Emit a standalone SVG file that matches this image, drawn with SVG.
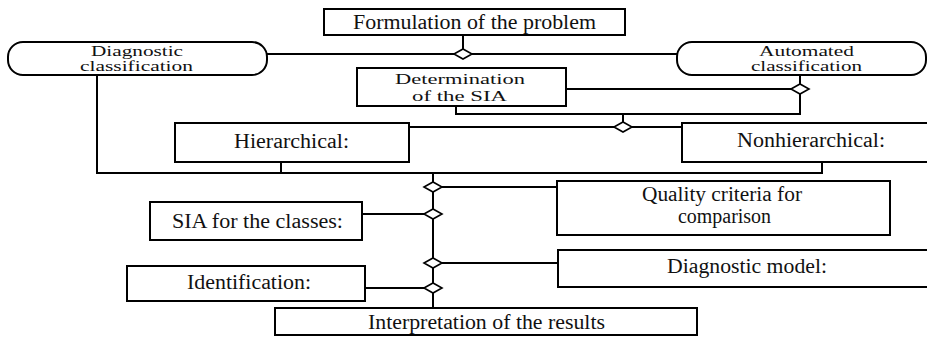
<svg xmlns="http://www.w3.org/2000/svg" width="927" height="338" viewBox="0 0 927 338">
<style>
.b{fill:#fff;stroke:#000;stroke-width:2}
.c{fill:none;stroke:#000;stroke-width:2}
.d{fill:#fff;stroke:#000;stroke-width:1.6}
text{font-family:'Liberation Serif','DejaVu Serif',serif;font-size:20px;fill:#111}
text.t{font-size:14px}
text.u{font-size:15px}
</style>
<defs>
<path id="dm" d="M-9,0 L0,-5 L9,0 L0,5 Z"/>
</defs>
<rect width="927" height="338" fill="#fff"/>
<g id="connectors">
<path class="c" d="M463,35 V54 M266,54 H677"/>
<path class="c" d="M566,89 H800 M800,75 V114 H456 V106"/>
<path class="c" d="M623,114 V127 M409,127 H682"/>
<path class="c" d="M97,75 V173 H822 V162 M281,162 V173"/>
<path class="c" d="M433,173 V308"/>
<path class="c" d="M433,187 H557 M362,214 H433 M433,263 H558 M365,288 H433"/>
<use href="#dm" class="d" x="463" y="54"/>
<use href="#dm" class="d" x="800" y="89"/>
<use href="#dm" class="d" x="623" y="127"/>
<use href="#dm" class="d" x="433" y="187"/>
<use href="#dm" class="d" x="433" y="214"/>
<use href="#dm" class="d" x="433" y="263"/>
<use href="#dm" class="d" x="433" y="288"/>
</g>
<g id="formulation">
<rect class="b" x="324" y="9" width="301" height="26"/>
<text x="353" y="29" textLength="243" lengthAdjust="spacingAndGlyphs">Formulation of the problem</text>
</g>
<g id="diagnostic-classification">
<rect class="b" x="8" y="42" width="259" height="33" rx="15" ry="15"/>
<text class="t" x="91" y="56" textLength="92" lengthAdjust="spacingAndGlyphs">Diagnostic</text>
<text class="t" x="80" y="71" textLength="113" lengthAdjust="spacingAndGlyphs">classification</text>
</g>
<g id="automated-classification">
<rect class="b" x="677" y="42" width="249" height="33" rx="15" ry="15"/>
<text class="t" x="759" y="56" textLength="95" lengthAdjust="spacingAndGlyphs">Automated</text>
<text class="t" x="751" y="71" textLength="111" lengthAdjust="spacingAndGlyphs">classification</text>
</g>
<g id="determination">
<rect class="b" x="357" y="68" width="209" height="38"/>
<text class="u" x="395" y="84" textLength="130" lengthAdjust="spacingAndGlyphs">Determination</text>
<text class="u" x="412" y="101" textLength="95" lengthAdjust="spacingAndGlyphs">of the SIA</text>
</g>
<g id="hierarchical">
<rect class="b" x="175" y="123" width="234" height="39"/>
<text x="234" y="148" textLength="115" lengthAdjust="spacingAndGlyphs">Hierarchical:</text>
</g>
<g id="nonhierarchical">
<rect class="b" x="682" y="123" width="250" height="39"/>
<text x="737" y="147" textLength="148" lengthAdjust="spacingAndGlyphs">Nonhierarchical:</text>
</g>
<g id="quality">
<rect class="b" x="557" y="181" width="333" height="54"/>
<text x="642" y="201" textLength="160" lengthAdjust="spacingAndGlyphs">Quality criteria for</text>
<text x="678" y="223" textLength="93" lengthAdjust="spacingAndGlyphs">comparison</text>
</g>
<g id="sia-classes">
<rect class="b" x="150" y="202" width="212" height="38"/>
<text x="172" y="228" textLength="171" lengthAdjust="spacingAndGlyphs">SIA for the classes:</text>
</g>
<g id="diagnostic-model">
<rect class="b" x="558" y="250" width="374" height="37"/>
<text x="667" y="273" textLength="160" lengthAdjust="spacingAndGlyphs">Diagnostic model:</text>
</g>
<g id="identification">
<rect class="b" x="127" y="266" width="238" height="35"/>
<text x="187" y="289" textLength="124" lengthAdjust="spacingAndGlyphs">Identification:</text>
</g>
<g id="interpretation">
<rect class="b" x="275" y="308" width="422" height="27"/>
<text x="368" y="329" textLength="237" lengthAdjust="spacingAndGlyphs">Interpretation of the results</text>
</g>
</svg>
